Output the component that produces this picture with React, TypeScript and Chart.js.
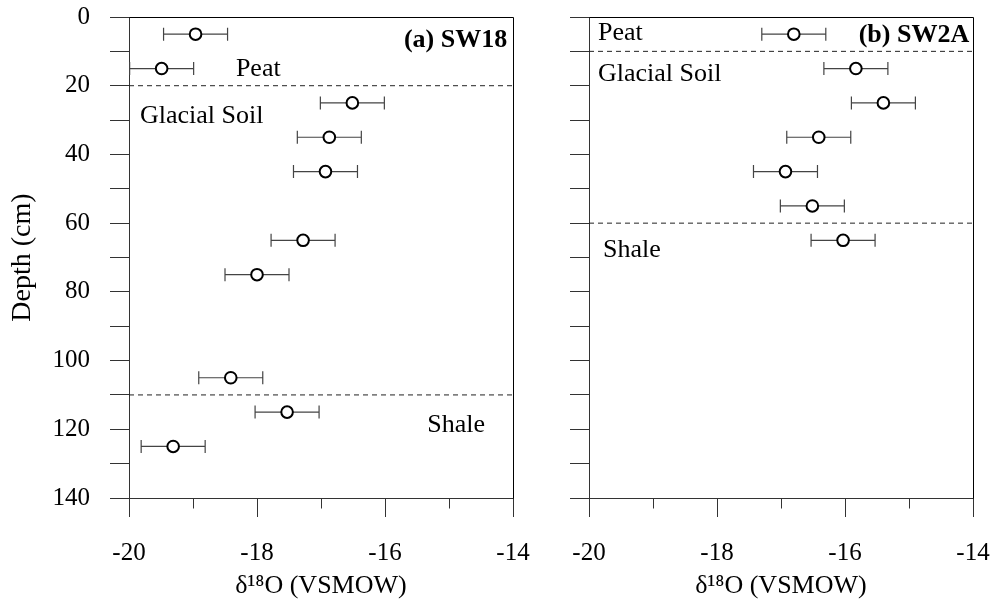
import React, { useEffect, useRef } from 'react';
import { Chart, registerables } from 'chart.js';

Chart.register(...registerables);

// ---- Data ----
// Panel (a) SW18
const depthA = [5, 15, 25, 35, 45, 65, 75, 105, 115, 125];
const d18OA = [-18.96, -19.49, -16.51, -16.87, -16.93, -17.28, -18.0, -18.41, -17.53, -19.31];
const errA = [0.5, 0.5, 0.5, 0.5, 0.5, 0.5, 0.5, 0.5, 0.5, 0.5];
const layerBoundsA = [20, 110];

// Panel (b) SW2A
const depthB = [5, 15, 25, 35, 45, 55, 65];
const d18OB = [-16.8, -15.83, -15.4, -16.41, -16.93, -16.51, -16.03];
const errB = [0.5, 0.5, 0.5, 0.5, 0.5, 0.5, 0.5];
const layerBoundsB = [10, 60];

// Axes
const xMajorTicks = [-20, -18, -16, -14];
const xMinorTicks = [-19, -17, -15];
const depthTicks = [0, 10, 20, 30, 40, 50, 60, 70, 80, 90, 100, 110, 120, 130, 140];
const depthLabelEvery = 20;

const xTitle = 'δ¹⁸O (VSMOW)';
const yTitle = 'Depth (cm)';

// Annotation texts (positions in data coordinates)
const labelsA = [
  { text: '(a) SW18', x: -14.09, y: 6.7, align: 'right', bold: true },
  { text: 'Peat', x: -18.33, y: 15.1, align: 'left', bold: false },
  { text: 'Glacial Soil', x: -19.83, y: 28.8, align: 'left', bold: false },
  { text: 'Shale', x: -15.34, y: 118.7, align: 'left', bold: false },
];
const labelsB = [
  { text: '(b) SW2A', x: -14.06, y: 5.2, align: 'right', bold: true },
  { text: 'Peat', x: -19.86, y: 4.7, align: 'left', bold: false },
  { text: 'Glacial Soil', x: -19.86, y: 16.6, align: 'left', bold: false },
  { text: 'Shale', x: -19.78, y: 67.8, align: 'left', bold: false },
];

const FONT = "'Liberation Serif', 'Times New Roman', serif";
const AXIS_COLOR = '#333';

type Panel = {
  depth: number[];
  value: number[];
  err: number[];
  bounds: number[];
  labels: { text: string; x: number; y: number; align: string; bold: boolean }[];
  yLabels: boolean;
  yAxisWidth: number;
  padRight: number;
};

function makePanelPlugin(p: Panel) {
  return {
    id: 'panelDecor',
    beforeDatasetsDraw(chart: any) {
      const { ctx, scales } = chart;
      const x = scales.x;
      const y = scales.y;
      ctx.save();
      ctx.strokeStyle = '#444';
      ctx.lineWidth = 1.2;
      for (let i = 0; i < p.depth.length; i++) {
        const xl = x.getPixelForValue(p.value[i] - p.err[i]);
        const xr = x.getPixelForValue(p.value[i] + p.err[i]);
        const py = y.getPixelForValue(p.depth[i]);
        ctx.beginPath();
        ctx.moveTo(xl, py);
        ctx.lineTo(xr, py);
        ctx.moveTo(xl, py - 6.5);
        ctx.lineTo(xl, py + 6.5);
        ctx.moveTo(xr, py - 6.5);
        ctx.lineTo(xr, py + 6.5);
        ctx.stroke();
      }
      ctx.restore();
    },
    afterDraw(chart: any) {
      const { ctx, chartArea, scales } = chart;
      const x = scales.x;
      const y = scales.y;
      ctx.save();
      // frame (top and right)
      ctx.strokeStyle = '#000';
      ctx.lineWidth = 1;
      const l = Math.round(chartArea.left) + 0.5;
      const r = Math.round(chartArea.right) + 0.5;
      const t = Math.round(chartArea.top) + 0.5;
      const b = Math.round(chartArea.bottom) + 0.5;
      ctx.beginPath();
      ctx.moveTo(l, t);
      ctx.lineTo(r, t);
      ctx.lineTo(r, b);
      ctx.stroke();
      // minor x ticks
      ctx.strokeStyle = AXIS_COLOR;
      ctx.beginPath();
      for (const v of xMinorTicks) {
        const px = Math.round(x.getPixelForValue(v)) + 0.5;
        ctx.moveTo(px, b);
        ctx.lineTo(px, b + 10);
      }
      ctx.stroke();
      // annotations
      ctx.fillStyle = '#000';
      ctx.textBaseline = 'middle';
      for (const a of p.labels) {
        ctx.font = `${a.bold ? 'bold ' : ''}26px ${FONT}`;
        ctx.textAlign = a.align as CanvasTextAlign;
        ctx.fillText(a.text, x.getPixelForValue(a.x), y.getPixelForValue(a.y));
      }
      ctx.restore();
    },
  };
}

function makeConfig(p: Panel): any {
  const datasets: any[] = [
    {
      type: 'scatter',
      data: p.depth.map((d, i) => ({ x: p.value[i], y: d })),
      pointRadius: 5.8,
      pointHoverRadius: 5.8,
      borderWidth: 2,
      borderColor: '#000',
      backgroundColor: '#fff',
      showLine: false,
    },
    ...p.bounds.map((bd) => ({
      type: 'line',
      data: [
        { x: xMajorTicks[0], y: bd },
        { x: xMajorTicks[xMajorTicks.length - 1], y: bd },
      ],
      borderColor: '#222',
      borderWidth: 1,
      borderDash: [5, 4],
      pointRadius: 0,
      fill: false,
    })),
  ];
  return {
    type: 'scatter',
    data: { datasets },
    plugins: [makePanelPlugin(p)],
    options: {
      animation: false,
      responsive: false,
      maintainAspectRatio: false,
      events: [],
      layout: { padding: { left: 0, top: 17, right: p.padRight, bottom: 0 } },
      plugins: { legend: { display: false }, tooltip: { enabled: false } },
      scales: {
        x: {
          type: 'linear',
          position: 'bottom',
          min: xMajorTicks[0],
          max: xMajorTicks[xMajorTicks.length - 1],
          afterBuildTicks: (s: any) => {
            s.ticks = xMajorTicks.map((v) => ({ value: v }));
          },
          afterFit: (s: any) => {
            s.height = 101;
            s.paddingLeft = 0;
            s.paddingRight = 0;
            s.paddingTop = 0;
            s.paddingBottom = 0;
          },
          ticks: {
            color: '#000',
            font: { family: FONT, size: 25 },
            padding: 21,
            maxRotation: 0,
            autoSkip: false,
            callback: (v: number) => String(v),
          },
          grid: {
            drawOnChartArea: false,
            drawTicks: true,
            tickLength: 19,
            color: AXIS_COLOR,
          },
          border: { display: true, color: AXIS_COLOR, width: 1 },
          title: {
            display: true,
            text: xTitle,
            color: '#000',
            font: { family: FONT, size: 26, lineHeight: 1 },
            padding: { top: 0, bottom: 0 },
          },
        },
        y: {
          type: 'linear',
          position: 'left',
          reverse: true,
          min: depthTicks[0],
          max: depthTicks[depthTicks.length - 1],
          afterBuildTicks: (s: any) => {
            s.ticks = depthTicks.map((v) => ({ value: v }));
          },
          afterFit: (s: any) => {
            s.width = p.yAxisWidth;
            s.paddingLeft = 0;
            s.paddingRight = 0;
            s.paddingTop = 0;
            s.paddingBottom = 0;
          },
          ticks: {
            color: '#000',
            font: { family: FONT, size: 25 },
            padding: 20,
            autoSkip: false,
            callback: (v: number) => (p.yLabels && v % depthLabelEvery === 0 ? String(v) : ''),
          },
          grid: {
            drawOnChartArea: false,
            drawTicks: true,
            tickLength: 19,
            color: AXIS_COLOR,
          },
          border: { display: true, color: AXIS_COLOR, width: 1 },
          title: {
            display: p.yLabels,
            text: yTitle,
            color: '#000',
            font: { family: FONT, size: 28, lineHeight: 1 },
            padding: { top: 9, bottom: 0 },
          },
        },
      },
    },
  };
}

const panelA: Panel = {
  depth: depthA,
  value: d18OA,
  err: errA,
  bounds: layerBoundsA,
  labels: labelsA,
  yLabels: true,
  yAxisWidth: 129,
  padRight: 27,
};
const panelB: Panel = {
  depth: depthB,
  value: d18OB,
  err: errB,
  bounds: layerBoundsB,
  labels: labelsB,
  yLabels: false,
  yAxisWidth: 49,
  padRight: 21,
};

export default function App() {
  const refA = useRef<HTMLCanvasElement>(null);
  const refB = useRef<HTMLCanvasElement>(null);

  useEffect(() => {
    const ca = new Chart(refA.current as HTMLCanvasElement, makeConfig(panelA));
    const cb = new Chart(refB.current as HTMLCanvasElement, makeConfig(panelB));
    return () => {
      ca.destroy();
      cb.destroy();
    };
  }, []);

  return (
    <div style={{ position: 'absolute', left: 0, top: 0, width: 994, height: 599, background: '#fff' }}>
      <canvas
        ref={refA}
        width={540}
        height={599}
        style={{ position: 'absolute', left: 0, top: 0, width: 540, height: 599 }}
      />
      <canvas
        ref={refB}
        width={454}
        height={599}
        style={{ position: 'absolute', left: 540, top: 0, width: 454, height: 599 }}
      />
    </div>
  );
}
